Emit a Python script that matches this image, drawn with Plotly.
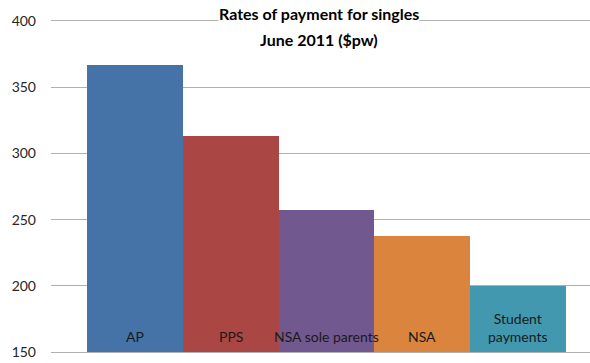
import plotly.graph_objects as go

# Weekly payment rates for single recipients, June 2011
categories = ["AP", "PPS", "NSA sole parents", "NSA", "Student payments"]
bar_labels = ["AP", "PPS", "NSA sole parents", "NSA", "Student<br>payments"]
rates = [366.4, 313.2, 256.9, 237.5, 199.5]
colors = ["#4572A7", "#AA4643", "#71588F", "#DB843D", "#4198AF"]
y_ticks = [150, 200, 250, 300, 350, 400]

FONT = "Lato, 'Open Sans', sans-serif"
GRID = "#b0b0b0"

fig = go.Figure(
    go.Bar(
        x=categories,
        y=rates,
        base=0,
        marker=dict(color=colors, line=dict(width=0)),
        width=1.0,
        hoverinfo="x+y",
    )
)

# Category names sit inside the bars, just above the baseline
for cat, lab in zip(categories, bar_labels):
    fig.add_annotation(
        x=cat, y=150, xref="x", yref="y",
        text=lab, showarrow=False,
        yanchor="bottom", yshift=5,
        font=dict(family=FONT, size=14, color="#1a1a1a"),
    )

# Two-line chart title on a white backing
fig.add_annotation(
    x=0.4963, y=1, xref="paper", yref="paper", yanchor="middle", yshift=8,
    text="<b>Rates of payment for singles</b>", showarrow=False,
    bgcolor="white", borderpad=0,
    font=dict(family=FONT, size=16, color="#000000"),
)
fig.add_annotation(
    x=0.4963, y=1, xref="paper", yref="paper", yanchor="middle", yshift=-18,
    text="<b>June 2011 ($pw)</b>", showarrow=False,
    bgcolor="white", borderpad=0,
    font=dict(family=FONT, size=16, color="#000000"),
)

fig.update_layout(
    width=590, height=363,
    margin=dict(l=51, r=0, t=21, b=11),
    paper_bgcolor="white", plot_bgcolor="white",
    showlegend=False,
    bargap=0,
    xaxis=dict(
        range=[-0.876, 4.751],
        showticklabels=False, showgrid=False, zeroline=False,
        showline=True, mirror=True, linecolor=GRID, linewidth=1,
        ticks="",
    ),
    yaxis=dict(
        range=[150, 400],
        tickvals=y_ticks,
        showgrid=True, gridcolor=GRID, gridwidth=1,
        zeroline=False, showline=False, ticks="",
        ticklabelstandoff=14,
        tickfont=dict(family=FONT, size=14, color="#262626"),
    ),
)

fig.write_html("out.html")
